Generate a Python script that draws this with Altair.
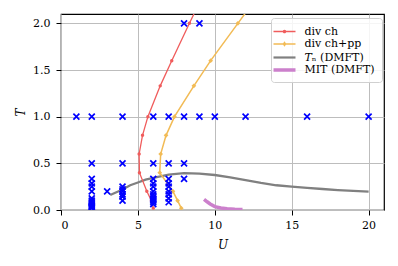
import altair as alt
import pandas as pd

# ---- data ----
T_grid   = [0.02, 0.10, 0.20, 0.40, 0.60, 0.80, 1.00, 1.33, 1.60, 2.00, 2.67]
U_ch     = [6.00, 5.88, 5.58, 5.10, 5.08, 5.30, 5.65, 6.45, 7.20, 8.35, 10.3]
U_chpp   = [7.82, 7.58, 7.28, 6.42, 6.48, 6.83, 7.38, 8.64, 9.73, 11.5, 14.5]

U_TN = [3.2, 4.0, 4.5, 5.0, 5.5, 6.0, 7.0, 8.0, 9.0, 10.0, 11.0, 12.0, 13.0, 14.0, 15.0, 16.0, 17.0, 18.0, 19.0, 20.0]
T_TN = [0.16, 0.22, 0.265, 0.295, 0.325, 0.345, 0.38, 0.395, 0.39, 0.375, 0.35, 0.32, 0.29, 0.265, 0.25, 0.238, 0.225, 0.214, 0.205, 0.196]

U_MIT = [9.3, 9.5, 9.7, 10.0, 10.4, 10.8, 11.3, 11.8]
T_MIT = [0.114, 0.088, 0.064, 0.036, 0.022, 0.014, 0.009, 0.006]

cross_U = ([1] + [2] * 15 + [3] + [4] * 8 + [6] * 13 + [7] * 9 + [8] * 4 + [9] * 2 + [10, 12, 16, 20])
cross_T = ([1.0]
           + [1.0, 0.5, 0.333, 0.286, 0.25, 0.2, 0.125, 0.1, 0.083, 0.0625, 0.05, 0.04, 0.033, 0.025, 0.02]
           + [0.2]
           + [1.0, 0.5, 0.25, 0.222, 0.2, 0.167, 0.143, 0.1]
           + [1.0, 0.5, 0.333, 0.286, 0.25, 0.2, 0.167, 0.143, 0.125, 0.111, 0.1, 0.083, 0.0625]
           + [1.0, 0.5, 0.333, 0.286, 0.25, 0.2, 0.167, 0.125, 0.083]
           + [2.0, 1.0, 0.5, 0.333]
           + [2.0, 1.0]
           + [1.0, 1.0, 1.0, 1.0])

series = ["div ch", "div ch+pp", "𝑇ₙ (DMFT)", "MIT (DMFT)"]
colors = ["#f05c5c", "#f2bb55", "#808080", "#cc80cc"]
legend_shapes = [
    "M-2,-0.12H2V0.12H-2Z M-0.34,0A0.34,0.34 0 1,1 0.34,0A0.34,0.34 0 1,1 -0.34,0Z",
    "M-2,-0.12H2V0.12H-2Z M0,-0.52L0.34,0L0,0.52L-0.34,0Z",
    "M-2,-0.2H2V0.2H-2Z",
    "M-2,-0.32H2V0.32H-2Z",
]

# ---- tables ----
ch = pd.DataFrame({"U": U_ch, "T": T_grid, "i": range(len(T_grid))})
chpp = pd.DataFrame({"U": U_chpp, "T": T_grid, "i": range(len(T_grid))})
tn = pd.DataFrame({"U": U_TN, "T": T_TN})
mit = pd.DataFrame({"U": U_MIT, "T": T_MIT})
cross = pd.DataFrame({"U": cross_U, "T": cross_T})
leg = pd.DataFrame({"U": [-10] * 4, "T": [1.0] * 4, "s": series})

xs = alt.Scale(domain=[0, 21], nice=False, zero=False)
ys = alt.Scale(domain=[0, 2.1], nice=False, zero=False)
X = alt.X("U:Q", scale=xs, title="U",
          axis=alt.Axis(values=[0, 5, 10, 15, 20], format="d"))
Y = alt.Y("T:Q", scale=ys, title="T",
          axis=alt.Axis(values=[0, 0.5, 1.0, 1.5, 2.0], format=".1f"))

tn_line = alt.Chart(tn).mark_line(color=colors[2], strokeWidth=2.3, clip=True).encode(x=X, y=Y)
mit_line = alt.Chart(mit).mark_line(color=colors[3], strokeWidth=3.5, clip=True).encode(x=X, y=Y)

ch_line = alt.Chart(ch).mark_line(color=colors[0], strokeWidth=1.3, clip=True).encode(x=X, y=Y, order="i:Q")
ch_pts = alt.Chart(ch).mark_point(color=colors[0], filled=True, size=12, opacity=1, clip=True).encode(x=X, y=Y)
chpp_line = alt.Chart(chpp).mark_line(color=colors[1], strokeWidth=1.5, clip=True).encode(x=X, y=Y, order="i:Q")
chpp_pts = alt.Chart(chpp).mark_point(color=colors[1], filled=True, shape="diamond", size=22, opacity=1, clip=True).encode(x=X, y=Y)

crosses = alt.Chart(cross).mark_point(
    shape="M-1,-1L1,1M-1,1L1,-1", filled=False, color="#0000ff", size=36,
    strokeWidth=1.7, opacity=1, clip=True).encode(x=X, y=Y)

leg_props = dict(title=None, orient="none", legendX=210, legendY=4,
                 symbolSize=121, labelOffset=13.5, padding=7,
                 rowPadding=0.5, labelFontSize=11,
                 labelFont="DejaVu Serif", labelColor="black",
                 strokeColor="#d0d0d0", fillColor="rgba(255,255,255,0.85)",
                 cornerRadius=3, symbolOpacity=1)

legend_proxy = alt.Chart(leg).mark_point(filled=True, opacity=1, clip=True, size=121).encode(
    x=X, y=Y,
    color=alt.Color("s:N", scale=alt.Scale(domain=series, range=colors), sort=series,
                    legend=alt.Legend(**leg_props)),
    shape=alt.Shape("s:N", scale=alt.Scale(domain=series, range=legend_shapes), sort=series,
                    legend=alt.Legend(**leg_props)),
)

chart = alt.layer(tn_line, mit_line, ch_line, ch_pts, chpp_line, chpp_pts, crosses, legend_proxy).properties(
    width=323, height=196,
    autosize=alt.AutoSizeParams(type="none"),
    padding={"left": 53, "top": 6, "right": 6, "bottom": 50},
).configure_view(stroke="black", strokeWidth=1.2).configure_axis(
    domain=False, grid=True, gridColor="#bdbdbd", gridWidth=1,
    tickColor="black", tickSize=5, tickWidth=1,
    labelFont="DejaVu Serif", labelFontSize=11, labelColor="black",
    titleFont="DejaVu Serif", titleFontSize=12, titleFontStyle="italic",
    titleFontWeight="normal", titleColor="black",
).configure_axisX(titlePadding=9, labelPadding=4.5).configure_axisY(
    titlePadding=5, titleAngle=-90, labelPadding=6)

chart.save("out.html", embed_options={"renderer": "svg", "actions": False})
